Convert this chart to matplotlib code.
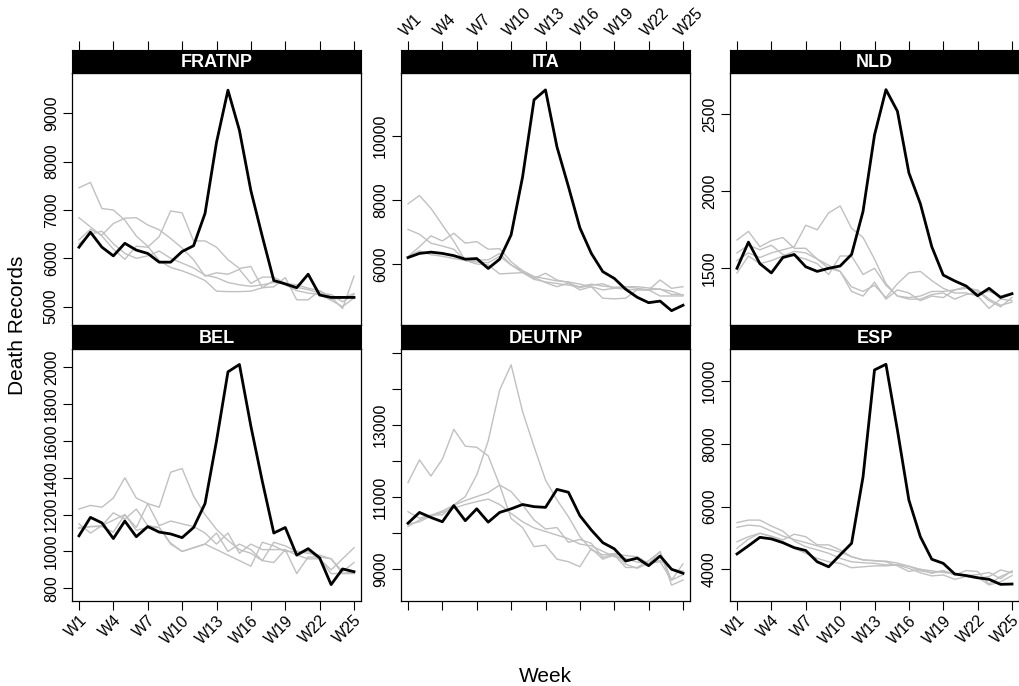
import numpy as np
import matplotlib
matplotlib.use("Agg")
import matplotlib.pyplot as plt

plt.rcParams['font.family'] = ['Liberation Sans', 'DejaVu Sans']

# semanas
weeks = np.arange(1, 26)
tick_weeks = [1, 4, 7, 10, 13, 16, 19, 22, 25]
tick_labels = ['W%d' % w for w in tick_weeks]

# 2020 (negro) y años anteriores (gris)
FRATNP_2020 = [6230, 6540, 6230, 6050, 6310, 6170, 6100, 5920, 5920, 6140, 6260, 6930, 8400,
               9480, 8650, 7400, 6450, 5540, 5470, 5390, 5670, 5240, 5190, 5190, 5190]
FRATNP_prev = [
    [7460, 7570, 7030, 7000, 6790, 6460, 6250, 5950, 5810, 5740, 5650, 5540, 5320, 5310, 5310,
     5320, 5390, 5540, 5450, 5330, 5280, 5250, 5130, 5000, 5180],
    [6840, 6650, 6460, 6190, 5980, 6250, 6230, 6450, 6980, 6940, 6360, 6360, 6230, 5970, 5790,
     5830, 5390, 5410, 5600, 5140, 5140, 5330, 5200, 4960, 5630],
    [6380, 6600, 6480, 6720, 6830, 6840, 6690, 6590, 6410, 6210, 5970, 5630, 5700, 5670, 5770,
     5480, 5610, 5610, 5480, 5400, 5350, 5280, 5250, 5100, 5250],
    [6300, 6500, 6560, 6300, 6100, 6000, 6050, 6150, 6000, 5900, 5800, 5650, 5600, 5500, 5450,
     5420, 5450, 5500, 5480, 5450, 5380, 5330, 5150, 5180, 5270],
]

ITA_2020 = [6210, 6340, 6380, 6340, 6270, 6160, 6180, 5870, 6160, 6920, 8730, 11140, 11450,
            9670, 8430, 7140, 6340, 5770, 5560, 5220, 4970, 4800, 4850, 4550, 4720]
ITA_prev = [
    [7890, 8150, 7750, 7230, 6720, 6120, 6130, 6140, 6340, 5980, 5740, 5590, 5430, 5300, 5410,
     5200, 5300, 4940, 4920, 4940, 5210, 5200, 5010, 5010, 5010],
    [7090, 6940, 6660, 6570, 6470, 6120, 6010, 5980, 5700, 5720, 5740, 5530, 5450, 5400, 5350,
     5300, 5380, 5320, 5280, 5300, 5250, 5200, 5230, 5060, 5050],
    [6240, 6550, 6890, 6730, 6970, 6660, 6710, 6470, 6490, 6080, 5800, 5560, 5720, 5510, 5430,
     5270, 5350, 5390, 5260, 5220, 5200, 5200, 5510, 5250, 5300],
    [6240, 6420, 6300, 6250, 6180, 6120, 6070, 6050, 6250, 5980, 5800, 5620, 5550, 5480, 5450,
     5380, 5300, 5200, 5250, 5300, 5300, 5260, 5220, 5160, 5030],
]

NLD_2020 = [1500, 1670, 1530, 1470, 1570, 1590, 1510, 1480, 1500, 1515, 1590, 1870, 2365,
            2660, 2520, 2120, 1920, 1640, 1456, 1418, 1385, 1322, 1370, 1311, 1335]
NLD_prev = [
    [1550, 1600, 1570, 1600, 1620, 1640, 1780, 1750, 1860, 1905, 1760, 1700, 1560, 1400, 1320,
     1300, 1300, 1330, 1340, 1300, 1330, 1340, 1350, 1320, 1340],
    [1684, 1740, 1640, 1680, 1700, 1630, 1630, 1560, 1500, 1480, 1380, 1350, 1390, 1310, 1400,
     1470, 1480, 1420, 1370, 1340, 1340, 1320, 1240, 1300, 1290],
    [1600, 1650, 1620, 1650, 1590, 1580, 1560, 1530, 1460, 1580, 1580, 1460, 1500, 1390, 1320,
     1310, 1320, 1350, 1350, 1360, 1380, 1350, 1290, 1250, 1310],
    [1470, 1580, 1530, 1550, 1580, 1610, 1600, 1560, 1520, 1480, 1350, 1320, 1410, 1300, 1360,
     1340, 1290, 1320, 1310, 1360, 1370, 1360, 1300, 1260, 1280],
]

BEL_2020 = [1085, 1185, 1155, 1070, 1165, 1080, 1135, 1105, 1095, 1075, 1130, 1260, 1600,
            1975, 2015, 1680, 1380, 1100, 1130, 980, 1015, 965, 820, 905, 890]
BEL_prev = [
    [1230, 1250, 1240, 1290, 1400, 1290, 1260, 1240, 1430, 1450, 1300, 1200, 1120, 1060, 1010,
     990, 950, 940, 1010, 980, 960, 960, 880, 880, 890],
    [1150, 1100, 1140, 1210, 1175, 1230, 1140, 1130, 1040, 1000, 1020, 1040, 1100, 1000, 1040,
     1010, 950, 1050, 1030, 1000, 990, 980, 960, 890, 940],
    [1125, 1135, 1135, 1105, 1200, 1130, 1260, 1140, 1165, 1150, 1135, 1100, 1040, 1100, 990,
     1040, 1010, 1010, 1010, 880, 970, 970, 960, 880, 880],
    [1130, 1135, 1140, 1170, 1200, 1115, 1130, 1130, 1045, 1000, 1020, 1040, 1010, 980, 950,
     920, 1050, 1030, 1000, 1000, 1000, 960, 900, 960, 1020],
]

DEUTNP_2020 = [10280, 10580, 10440, 10320, 10770, 10350, 10680, 10310, 10580, 10680, 10800,
               10740, 10720, 11220, 11140, 10490, 10090, 9740, 9570, 9230, 9310, 9100, 9370,
               9000, 8890]
DEUTNP_prev = [
    [11410, 12040, 11590, 12060, 12890, 12420, 12390, 12150, 11340, 10410, 10160, 9630, 9670,
     9280, 9210, 9070, 9580, 9280, 9400, 9050, 9050, 9240, 9490, 8560, 8700],
    [10190, 10370, 10510, 10510, 10790, 11020, 11620, 12570, 13980, 14680, 13380, 12410, 11480,
     10930, 10460, 9910, 9540, 9400, 9440, 9140, 9030, 9160, 9210, 8700, 9150],
    [10600, 10420, 10500, 10620, 10780, 10910, 11020, 11130, 11340, 11160, 10790, 10370, 10120,
     10160, 9750, 9830, 9720, 9330, 9430, 9380, 9350, 9160, 9490, 8700, 8850],
    [10250, 10320, 10480, 10580, 10700, 10800, 10880, 10950, 10800, 10550, 10320, 10150, 10050,
     9950, 9850, 9700, 9650, 9500, 9350, 9300, 9200, 9150, 9250, 9000, 8950],
]

ESP_2020 = [4490, 4750, 5020, 4970, 4850, 4690, 4600, 4240, 4080, 4460, 4830, 6950, 10360,
            10540, 8440, 6210, 5040, 4320, 4190, 3850, 3800, 3730, 3680, 3520, 3530]
ESP_prev = [
    [5490, 5570, 5570, 5380, 5220, 4900, 4720, 4620, 4510, 4350, 4240, 4210, 4190, 4140, 4150,
     4100, 4000, 3950, 3900, 3850, 3800, 3750, 3500, 3600, 3800],
    [5340, 5410, 5380, 5220, 5060, 4950, 4850, 4750, 4650, 4550, 4400, 4300, 4270, 4260, 4200,
     4100, 3950, 3900, 3950, 3850, 3800, 3830, 3900, 3700, 3950],
    [4880, 5040, 5150, 5060, 4940, 5120, 5040, 4780, 4780, 4620, 4400, 4300, 4280, 4240, 4110,
     3930, 4000, 3870, 3960, 3820, 3960, 3930, 3530, 3770, 3930],
    [4670, 4960, 5150, 5040, 4880, 4670, 4510, 4350, 4240, 4190, 4050, 4080, 4110, 4110, 4140,
     4030, 3890, 3790, 3820, 3680, 3770, 3710, 3770, 3980, 3890],
]

# (nombre, fila, columna, 2020, previos, ylim, yticks, ylabels)
panels = [
    ('FRATNP', 0, 0, FRATNP_2020, FRATNP_prev, (4619, 9836),
     [5000, 6000, 7000, 8000, 9000], None),
    ('ITA', 0, 1, ITA_2020, ITA_prev, (4103, 11978), [6000, 8000, 10000], None),
    ('NLD', 0, 2, NLD_2020, NLD_prev, (1132, 2768), [1500, 2000, 2500], None),
    ('BEL', 1, 0, BEL_2020, BEL_prev, (731, 2099),
     [800, 1000, 1200, 1400, 1600, 1800, 2000], None),
    ('DEUTNP', 1, 1, DEUTNP_2020, DEUTNP_prev, (8119, 15120),
     [9000, 10000, 11000, 12000, 13000, 14000, 15000],
     ['9000', '', '11000', '', '13000', '', '']),
    ('ESP', 1, 2, ESP_2020, ESP_prev, (2989, 11028), [4000, 6000, 8000, 10000], None),
]

W, H = 1019, 686
fig = plt.figure(figsize=(W / 100, H / 100), dpi=100)


def box(x0, y0, x1, y1):
    return [x0 / W, 1 - y1 / H, (x1 - x0) / W, (y1 - y0) / H]


col_x = [72, 401, 730]
pw = 289
strip_y = [(50, 73), (325, 349)]
panel_y = [(73, 325), (349, 601)]
xlim = (0.39, 25.61)
fs_tick = 11.5

for name, r, c, y20, prev, ylim, yt, yl in panels:
    x0 = col_x[c]
    ax = fig.add_axes(box(x0, panel_y[r][0], x0 + pw, panel_y[r][1]))
    for g in prev:
        ax.plot(weeks, g, color='#c0c0c0', lw=1.0, zorder=2)
    ax.plot(weeks, y20, color='black', lw=2.0, zorder=3)
    ax.set_xlim(*xlim)
    ax.set_ylim(*ylim)
    ax.set_yticks(yt)
    if yl is not None:
        ax.set_yticklabels(yl)
    ax.tick_params(axis='y', direction='out', length=6.5, width=0.8, pad=3,
                   labelsize=fs_tick, right=False)
    for lab in ax.get_yticklabels():
        lab.set_rotation(90)
        lab.set_va('center')
    for s in ax.spines.values():
        s.set_linewidth(0.9)

    # tira del título
    st = fig.add_axes(box(x0, strip_y[r][0], x0 + pw, strip_y[r][1]))
    st.set_facecolor('black')
    st.set_xlim(*xlim)
    st.set_yticks([])
    st.text(0.5, 0.45, name, color='white', fontsize=13, fontweight='bold',
            ha='center', va='center', transform=st.transAxes)

    if r == 0:
        ax.set_xticks([])
        st.set_xticks(tick_weeks)
        st.tick_params(axis='x', direction='out', length=6.5, width=0.8,
                       bottom=False, labelbottom=False, top=True,
                       labeltop=(c == 1), labelsize=fs_tick, pad=1)
        if c == 1:
            st.set_xticklabels(tick_labels)
            plt.setp(st.get_xticklabels(), rotation=45, ha='left',
                     rotation_mode='anchor')
    else:
        st.set_xticks([])
        ax.set_xticks(tick_weeks)
        ax.set_xticklabels(tick_labels)
        ax.tick_params(axis='x', direction='out', length=6.5, width=0.8,
                       top=False, labelbottom=(c != 1), labelsize=fs_tick, pad=2)
        plt.setp(ax.get_xticklabels(), rotation=45, ha='right',
                 rotation_mode='anchor')

fig.text(18 / W, 1 - 325 / H, 'Death Records', rotation=90, ha='center',
         va='center', fontsize=15)
fig.text(545 / W, 1 - 677 / H, 'Week', ha='center', va='center', fontsize=15)

fig.savefig('out.png', dpi=100)
